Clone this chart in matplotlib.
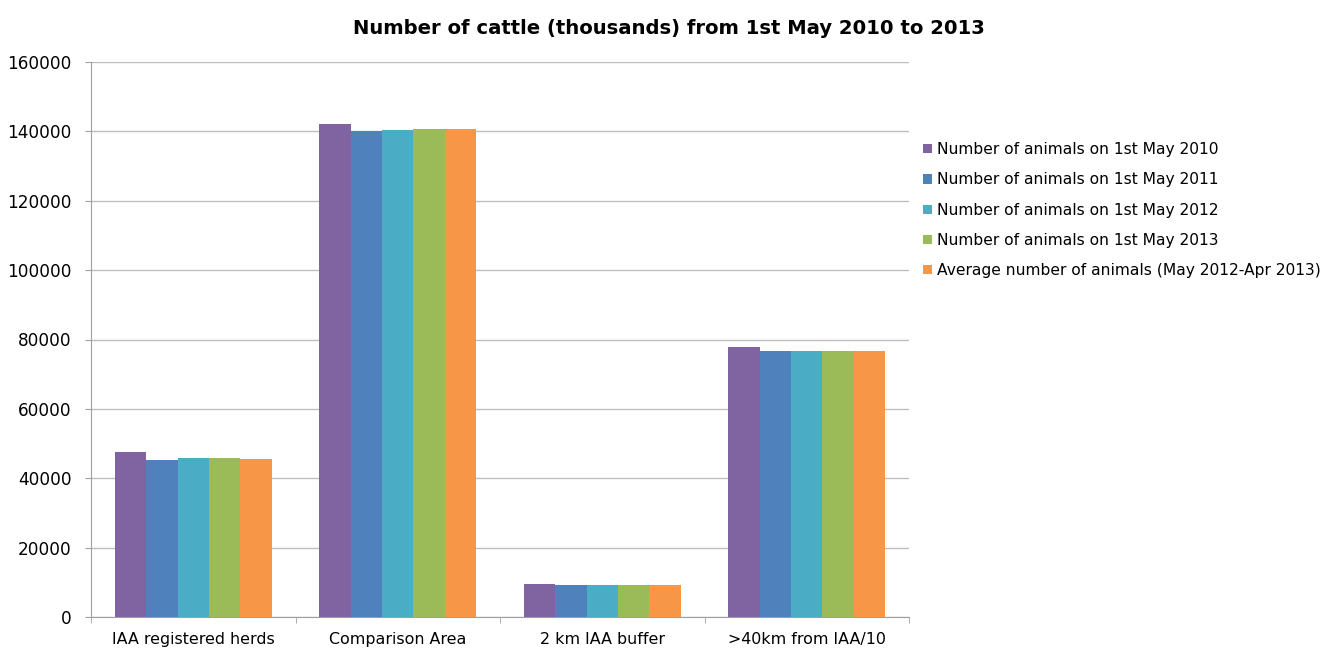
import matplotlib
matplotlib.use("Agg")
import matplotlib.pyplot as plt
import numpy as np

categories = ["IAA registered herds", "Comparison Area", "2 km IAA buffer", ">40km from IAA/10"]
series_names = [
    "Number of animals on 1st May 2010",
    "Number of animals on 1st May 2011",
    "Number of animals on 1st May 2012",
    "Number of animals on 1st May 2013",
    "Average number of animals (May 2012-Apr 2013)",
]
may_2010 = [47500, 142000, 9500, 77700]
may_2011 = [45300, 140100, 9200, 76800]
may_2012 = [45800, 140400, 9200, 76800]
may_2013 = [45800, 140600, 9200, 76800]
avg_2012_13 = [45500, 140700, 9200, 76800]
colors = ["#8064A2", "#4F81BD", "#4BACC6", "#9BBB59", "#F79646"]
yticks = [0, 20000, 40000, 60000, 80000, 100000, 120000, 140000, 160000]

plt.rcParams['font.family'] = ['DejaVu Sans']
fig = plt.figure(figsize=(13.41, 6.48), dpi=100)
ax = fig.add_axes([91/1341, 1 - 617/648, 818/1341, 555/648])

series = [may_2010, may_2011, may_2012, may_2013, avg_2012_13]
x = np.arange(len(categories))
bw = 0.154
for i, (vals, name, c) in enumerate(zip(series, series_names, colors)):
    ax.bar(x + (i - 2) * bw, vals, width=bw, color=c, label=name, zorder=3, linewidth=0)

ax.set_xlim(-0.5, len(categories) - 0.5)
ax.set_ylim(0, 160000)
ax.set_yticks(yticks)
ax.set_yticklabels([str(v) for v in yticks], fontsize=12.2, color="#000000")
ax.yaxis.grid(True, color="#BEBEBE", linewidth=1, zorder=0)
ax.set_xticks(x)
ax.set_xticklabels(categories, fontsize=11.4)
ax.set_xticks(np.arange(-0.5, len(categories), 1.0), minor=True)
ax.tick_params(axis='x', which='major', length=0, pad=11)
ax.tick_params(axis='x', which='minor', length=4.5, color="#A0A0A0", direction='out')
ax.tick_params(axis='y', length=4.5, color="#A0A0A0", direction='out', pad=9.4)
for s in ["top", "right"]:
    ax.spines[s].set_visible(False)
for s in ["left", "bottom"]:
    ax.spines[s].set_color("#A0A0A0")

fig.text(669/1341, 1 - 34.5/648, "Number of cattle (thousands) from 1st May 2010 to 2013",
         ha="center", va="baseline", fontsize=14.1, fontweight="bold")

leg = ax.legend(loc="upper left", bbox_to_anchor=(917/1341, 1 - 136/648),
                bbox_transform=fig.transFigure, frameon=False, fontsize=11.2,
                handlelength=0.55, handleheight=0.55, handletextpad=0.35,
                labelspacing=0.98, borderaxespad=0)

fig.savefig("out.png", dpi=100)
